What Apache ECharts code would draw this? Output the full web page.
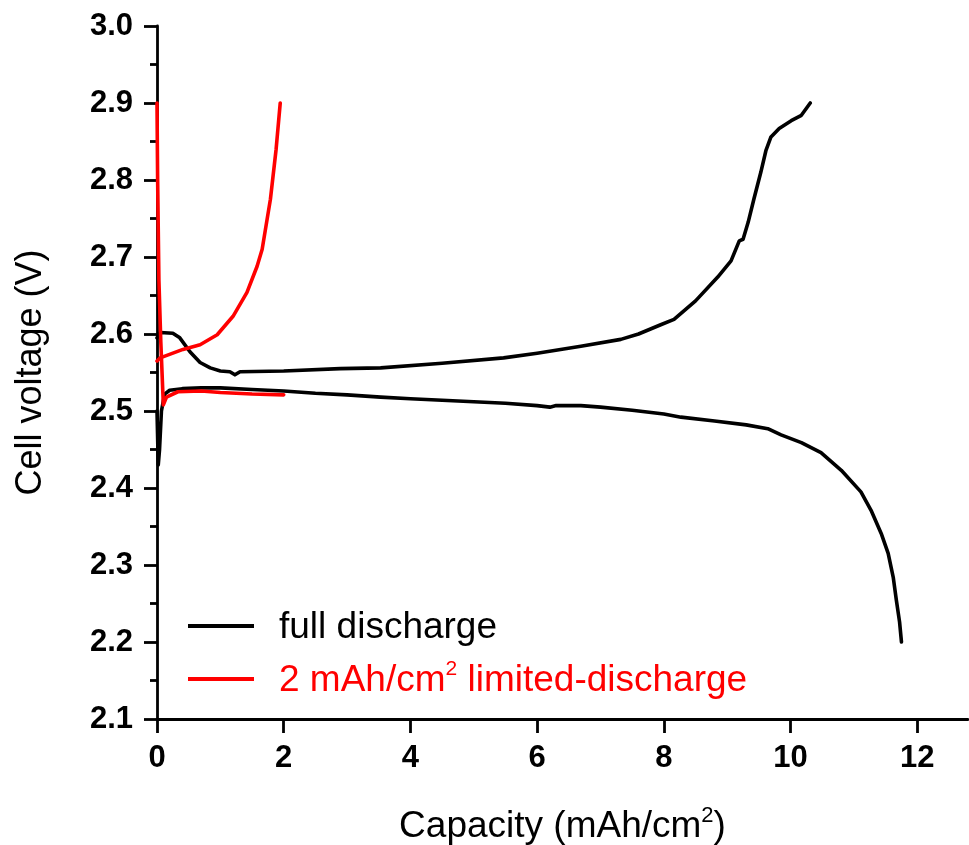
<!DOCTYPE html>
<html>
<head>
<meta charset="utf-8">
<script src="https://cdn.jsdelivr.net/npm/echarts@6/dist/echarts.min.js"></script>
<style>html,body{margin:0;padding:0;background:#fff}#c{width:969px;height:845px}</style>
</head>
<body>
<div id="c"></div>
<script>
// Full discharge (black): discharge branch
const fullDischargeX = [0, 0.02, 0.04, 0.07, 0.12, 0.2, 0.4, 0.7, 1.0, 1.5, 2.0, 2.5, 3.0, 3.53, 4.0, 4.5, 5.0, 5.5, 6.0, 6.2, 6.3, 6.69, 7.0, 7.5, 8.0, 8.27, 8.8, 9.3, 9.64, 9.85, 10.17, 10.48, 10.8, 11.11, 11.27, 11.43, 11.54, 11.62, 11.67, 11.72, 11.75];
const fullDischargeV = [2.50, 2.43, 2.45, 2.50, 2.522, 2.527, 2.529, 2.530, 2.530, 2.528, 2.526, 2.523, 2.521, 2.518, 2.516, 2.514, 2.512, 2.510, 2.507, 2.505, 2.507, 2.507, 2.505, 2.501, 2.496, 2.492, 2.487, 2.482, 2.477, 2.469, 2.459, 2.446, 2.423, 2.395, 2.371, 2.341, 2.315, 2.284, 2.254, 2.226, 2.200];
// Full discharge (black): charge branch
const fullChargeX = [0, 0.05, 0.25, 0.36, 0.52, 0.68, 0.84, 1.0, 1.15, 1.23, 1.31, 2.0, 2.89, 3.53, 4.5, 5.47, 6.0, 6.69, 7.32, 7.6, 7.95, 8.16, 8.5, 8.85, 9.06, 9.19, 9.25, 9.33, 9.42, 9.53, 9.61, 9.69, 9.82, 10.01, 10.17, 10.31];
const fullChargeV = [2.595, 2.602, 2.601, 2.595, 2.577, 2.563, 2.556, 2.552, 2.551, 2.547, 2.551, 2.552, 2.555, 2.556, 2.562, 2.569, 2.575, 2.584, 2.593, 2.600, 2.612, 2.619, 2.643, 2.674, 2.695, 2.721, 2.723, 2.745, 2.775, 2.81, 2.838, 2.856, 2.867, 2.877, 2.884, 2.900];
// Limited discharge (red): discharge branch
const limDischargeX = [0, 0.01, 0.03, 0.06, 0.1, 0.15, 0.33, 0.7, 1.0, 1.5, 2.0];
const limDischargeV = [2.90, 2.80, 2.67, 2.59, 2.508, 2.518, 2.525, 2.526, 2.524, 2.522, 2.521];
// Limited discharge (red): charge branch
const limChargeX = [0, 0.05, 0.41, 0.68, 0.95, 1.2, 1.42, 1.58, 1.66, 1.79, 1.88, 1.945];
const limChargeV = [2.565, 2.569, 2.580, 2.586, 2.599, 2.623, 2.654, 2.688, 2.710, 2.775, 2.840, 2.900];

const xTicks = [0, 2, 4, 6, 8, 10, 12];
const yTicks = [2.1, 2.2, 2.3, 2.4, 2.5, 2.6, 2.7, 2.8, 2.9, 3.0];
const seriesNames = ['full discharge', '2 mAh/cm2 limited-discharge'];

const zip = (xs, ys) => xs.map((x, i) => [x, ys[i]]);
const chart = echarts.init(document.getElementById('c'), null, {renderer: 'canvas'});
const FONT = 'Liberation Sans, Arial, sans-serif';
const tickFont = {fontFamily: '"Liberation Sans Narrow", "Arial Narrow", "Liberation Sans", Arial, sans-serif', fontWeight: 'bold', fontSize: 31, color: '#000'};
const lineStyleBase = {width: 3.6, cap: 'round', join: 'round'};
const mk = (name, xs, ys, color) => ({
  name, type: 'line', data: zip(xs, ys), showSymbol: false, symbol: 'none', color,
  smooth: false,
  lineStyle: Object.assign({color}, lineStyleBase), clip: false
});

chart.setOption({
  animation: false,
  backgroundColor: '#fff',
  grid: {left: 157, top: 26, right: 1, bottom: 126, containLabel: false, outerBoundsMode: 'none'},
  xAxis: {
    type: 'value', min: 0, max: 12.8, interval: 2,
    splitLine: {show: false},
    axisLine: {show: true, onZero: false, lineStyle: {color: '#000', width: 2.8}},
    axisTick: {show: true, inside: false, length: 14, lineStyle: {color: '#000', width: 2.8}, customValues: xTicks},
    axisLabel: Object.assign({margin: 24, customValues: xTicks, formatter: v => String(v)}, tickFont),
    name: '{n|Capacity (mAh/cm}{s|2}{n|)}',
    nameLocation: 'middle', nameGap: 86,
    nameTextStyle: {
      rich: {
        n: {fontFamily: FONT, fontSize: 37, color: '#000', lineHeight: 40, verticalAlign: 'bottom'},
        s: {fontFamily: FONT, fontSize: 22, color: '#000', lineHeight: 40, verticalAlign: 'top'}
      }
    }
  },
  yAxis: {
    type: 'value', min: 2.1, max: 3.0, interval: 0.1,
    splitLine: {show: false},
    axisLine: {show: true, onZero: false, lineStyle: {color: '#000', width: 2.8}},
    axisTick: {show: true, inside: false, length: 13, lineStyle: {color: '#000', width: 2.8}, customValues: yTicks},
    minorTick: {show: true, splitNumber: 2, length: 7, lineStyle: {color: '#000', width: 2.8}},
    axisLabel: Object.assign({margin: 24, customValues: yTicks, formatter: v => v.toFixed(1)}, tickFont),
    name: 'Cell voltage (V)',
    nameLocation: 'middle', nameGap: 108, nameRotate: 90,
    nameTextStyle: {fontFamily: FONT, fontSize: 36, color: '#000'}
  },
  legend: {
    show: true, orient: 'vertical', left: 183, top: 604,
    icon: 'rect', itemWidth: 66, itemHeight: 4, itemGap: 13,
    selectedMode: false,
    formatter: name => name === seriesNames[1] ? '{r|2 mAh/cm}{rs|2}{r| limited-discharge}' : '{b|' + name + '}',
    textStyle: {
      padding: [0, 0, 0, 20],
      rich: {
        b: {fontFamily: FONT, fontSize: 37, color: '#000', lineHeight: 40, verticalAlign: 'bottom'},
        r: {fontFamily: FONT, fontSize: 37, color: '#ff0000', lineHeight: 40, verticalAlign: 'bottom'},
        rs: {fontFamily: FONT, fontSize: 21, color: '#ff0000', lineHeight: 40, verticalAlign: 'top'}
      }
    },
    data: [{name: seriesNames[0]}, {name: seriesNames[1]}]
  },
  series: [
    mk(seriesNames[0], fullDischargeX, fullDischargeV, '#000000'),
    mk(seriesNames[0], fullChargeX, fullChargeV, '#000000'),
    mk(seriesNames[1], limDischargeX, limDischargeV, '#ff0000'),
    mk(seriesNames[1], limChargeX, limChargeV, '#ff0000')
  ]
});
</script>
</body>
</html>
